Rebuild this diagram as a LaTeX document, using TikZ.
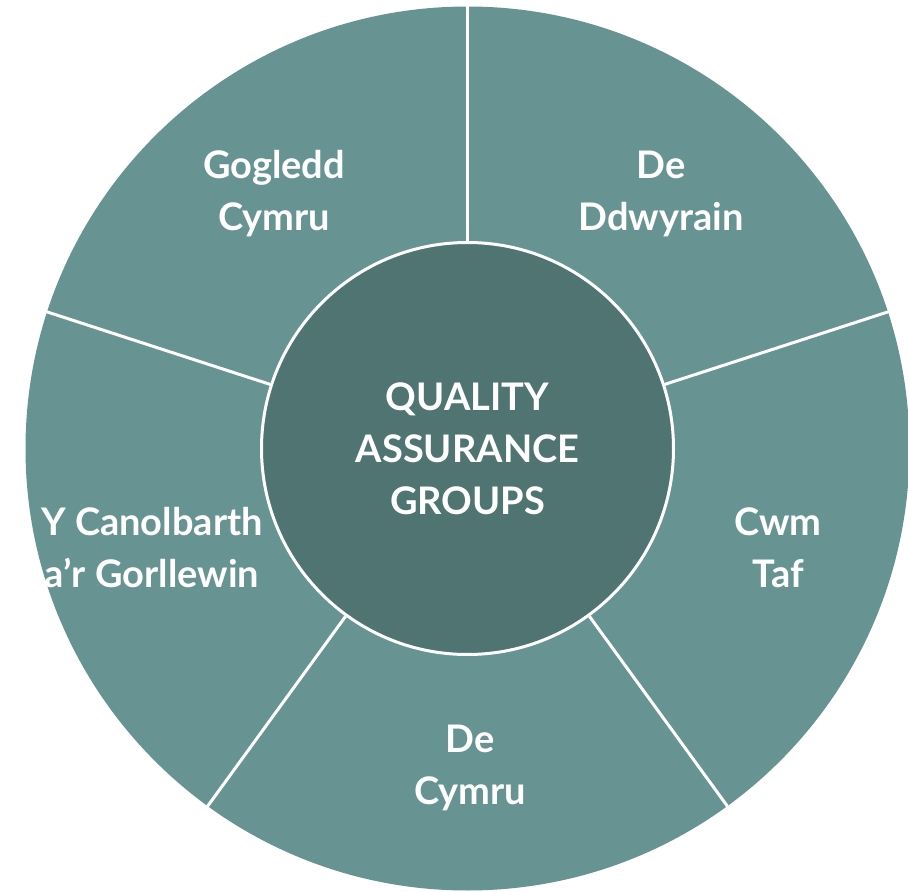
\documentclass[tikz,border=0pt]{standalone}
\usepackage{fontspec}
\setmainfont{Lato}
\usetikzlibrary{positioning}
\definecolor{qateal}{RGB}{103,148,147}
\definecolor{qadark}{RGB}{79,116,114}
\newcommand{\qafont}{\fontsize{28.5}{39}\selectfont\bfseries}
\tikzset{
  mywheel/.style = {circle, fill=qateal, minimum size=663pt, inner sep=0pt},
  myhub/.style = {circle, draw=white, line width=2.25pt, fill=qadark, minimum size=309pt, inner sep=0pt, align=center, font=\qafont, text=white},
  mylabel/.style = {align=center, font=\qafont, text=white},
  mydivider/.style = {draw=white, line width=2.25pt},
}

\begin{document}
\begin{tikzpicture}[x=0.75pt, y=-0.75pt]
\useasboundingbox (0,0) rectangle (908,892);
\node (wheel) [mywheel] at (467.5,448.5) {};
\node (hub) [myhub] at (467.5,448.5) {QUALITY\\ASSURANCE\\GROUPS};

\foreach \a in {90,18,-54,-126,162}{
  \draw[mydivider] (hub.\a) -- (wheel.\a);
}

\node (north) [mylabel] at (274,194) {Gogledd\\Cymru};
\node (east) [mylabel] at (661,194) {De\\Ddwyrain};
\node (taf) [mylabel] at (778,548) {Cwm\\Taf};
\node (south) [mylabel] at (470,768) {De\\Cymru};
\node (west) [mylabel] at (152,548) {Y Canolbarth\\a’r Gorllewin};
\end{tikzpicture}
\end{document}
